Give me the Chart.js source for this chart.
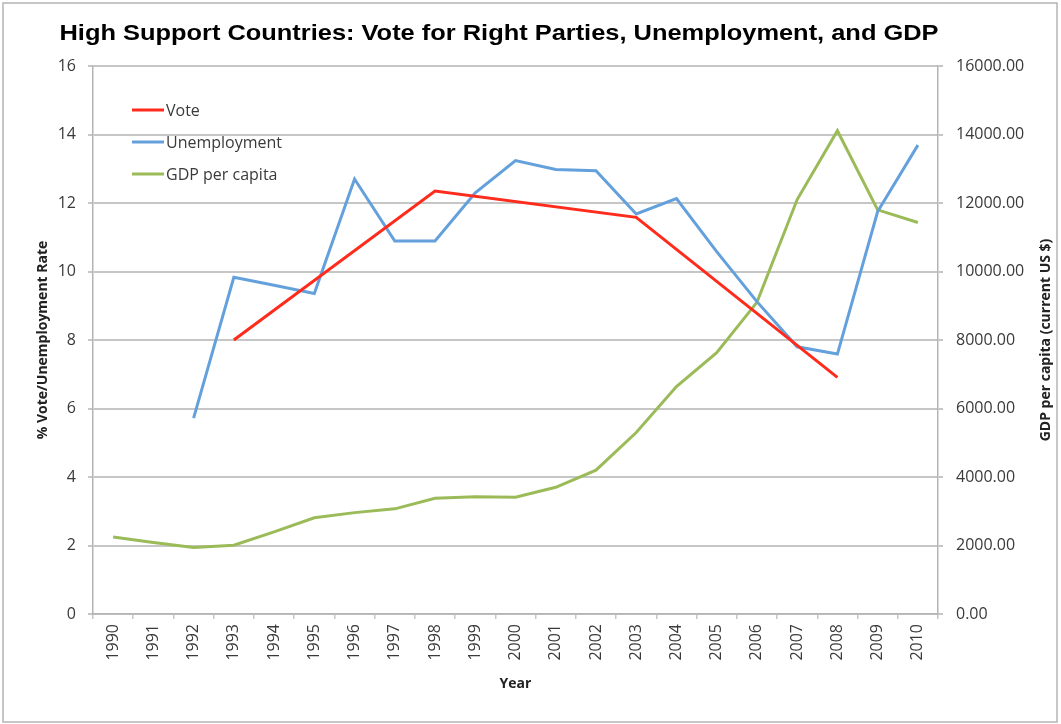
<!DOCTYPE html>
<html>
<head>
<meta charset="utf-8">
<title>High Support Countries</title>
<script src="https://cdn.jsdelivr.net/npm/chart.js@4/dist/chart.umd.min.js"></script>
<style>
    html, body { margin: 0; padding: 0; background: #fff; }
    canvas { display: block; }
</style>
</head>
<body>
<canvas id="mainChart" width="1061" height="724"></canvas>
<script>
// data
const years = ['1990', '1991', '1992', '1993', '1994', '1995', '1996', '1997', '1998', '1999', '2000',
    '2001', '2002', '2003', '2004', '2005', '2006', '2007', '2008', '2009', '2010'];

// vote only known in election years, gaps are spanned
const vote = [null, null, null, 8.0, null, null, null, null, 12.35, null, null,
    null, null, 11.58, null, null, null, null, 6.91, null, null];

const unemployment = [null, null, 5.72, 9.83, 9.6, 9.36, 12.7, 10.89, 10.89, 12.3, 13.24,
    12.98, 12.94, 11.68, 12.13, 10.58, 9.12, 7.8, 7.59, 11.75, 13.69];

const gdpPerCapita = [2250, 2090, 1940, 2010, 2400, 2810, 2960, 3070, 3380, 3420, 3410,
    3700, 4200, 5300, 6640, 7630, 9100, 12100, 14110, 11800, 11430];

const leftTicks = [0, 2, 4, 6, 8, 10, 12, 14, 16];
const rightTicks = [0, 2000, 4000, 6000, 8000, 10000, 12000, 14000, 16000];

const chartTitle = 'High Support Countries: Vote for Right Parties, Unemployment, and GDP';
const rightTitle = 'GDP per capita (current US $)';

const tickFont = { family: 'Open Sans', size: 16 };
const gridColor = '#c6c6c6';
const textColor = '#3a3a3a';

// frame, title, right axis title and the legend inside the plot
const decorPlugin = {
    id: 'decor',
    beforeDraw(chart) {
        const ctx = chart.ctx;
        ctx.save();
        ctx.fillStyle = '#fff';
        ctx.fillRect(0, 0, chart.width, chart.height);
        ctx.strokeStyle = '#b4b4b4';
        ctx.lineWidth = 1.5;
        ctx.strokeRect(3, 3, 1054, 719);
        ctx.restore();
    },
    afterDraw(chart) {
        const ctx = chart.ctx;
        const area = chart.chartArea;

        // title is wider in the original, stretch it a bit
        ctx.save();
        ctx.fillStyle = '#000';
        ctx.font = 'bold 22px "Liberation Sans", Arial, sans-serif';
        ctx.textAlign = 'center';
        ctx.textBaseline = 'middle';
        ctx.translate(499, 34);
        ctx.scale(1.155, 1);
        ctx.fillText(chartTitle, 0, 0);
        ctx.restore();

        ctx.save();
        ctx.fillStyle = '#222';
        ctx.font = 'bold 14px "Open Sans", sans-serif';
        ctx.textAlign = 'center';
        ctx.textBaseline = 'middle';
        ctx.translate(1046, (area.top + area.bottom) / 2);
        ctx.rotate(-Math.PI / 2);
        ctx.fillText(rightTitle, 0, 0);
        ctx.restore();

        ctx.save();
        ctx.font = '16px "Open Sans", sans-serif';
        ctx.textBaseline = 'middle';
        chart.data.datasets.forEach((ds, i) => {
            const y = 110 + i * 32;
            ctx.strokeStyle = ds.borderColor;
            ctx.lineWidth = 3;
            ctx.beginPath();
            ctx.moveTo(132, y);
            ctx.lineTo(164, y);
            ctx.stroke();
            ctx.fillStyle = textColor;
            ctx.fillText(ds.label, 166, y + 1);
        });
        ctx.restore();
    }
};

const ctx = document.getElementById('mainChart').getContext('2d');
const mainChart = new Chart(ctx, {
    type: 'line',
    data: {
        labels: years,
        datasets: [
            {
                label: 'Vote',
                data: vote,
                borderColor: '#ff2b1c',
                yAxisID: 'y',
                spanGaps: true
            },
            {
                label: 'Unemployment',
                data: unemployment,
                borderColor: '#64a0dc',
                yAxisID: 'y'
            },
            {
                label: 'GDP per capita',
                data: gdpPerCapita,
                borderColor: '#9bbb59',
                yAxisID: 'y1'
            }
        ]
    },
    options: {
        responsive: false,
        animation: false,
        devicePixelRatio: 1,
        layout: { padding: { top: 66, left: 0, right: 0, bottom: 0 } },
        elements: {
            line: { borderWidth: 3, tension: 0 },
            point: { radius: 0 }
        },
        plugins: {
            legend: { display: false },
            title: { display: false },
            tooltip: { enabled: false }
        },
        scales: {
            x: {
                offset: true,
                grid: { offset: true, drawOnChartArea: false, color: gridColor, lineWidth: 1.5, tickLength: 5 },
                border: { color: '#b4b4b4', width: 1.5 },
                ticks: { font: tickFont, color: textColor, minRotation: 90, maxRotation: 90, padding: 5, autoSkip: false },
                title: {
                    display: true, text: 'Year', color: '#222',
                    font: { family: 'Open Sans', size: 14, weight: 'bold' },
                    padding: { top: 0, bottom: 32 }
                },
                afterFit(scale) { scale.height = 110; }
            },
            y: {
                position: 'left',
                min: 0,
                max: 16,
                afterBuildTicks(scale) { scale.ticks = leftTicks.map(v => ({ value: v })); },
                grid: { color: gridColor, lineWidth: 2, tickLength: 5 },
                border: { color: '#b4b4b4', width: 1.5 },
                ticks: { font: tickFont, color: textColor, padding: 12 },
                title: {
                    display: true, text: '% Vote/Unemployment Rate', color: '#222',
                    font: { family: 'Open Sans', size: 14, weight: 'bold' },
                    padding: { top: 35, bottom: 0 }
                },
                afterFit(scale) { scale.width = 93; }
            },
            y1: {
                position: 'right',
                min: 0,
                max: 16000,
                afterBuildTicks(scale) { scale.ticks = rightTicks.map(v => ({ value: v })); },
                grid: { drawOnChartArea: false, color: gridColor, lineWidth: 2, tickLength: 5 },
                border: { color: '#b4b4b4', width: 1.5 },
                ticks: {
                    font: tickFont, color: textColor, padding: 13,
                    callback: (v) => Number(v).toFixed(2)
                },
                afterFit(scale) { scale.width = 123; }
            }
        }
    },
    plugins: [decorPlugin]
});
</script>
</body>
</html>
